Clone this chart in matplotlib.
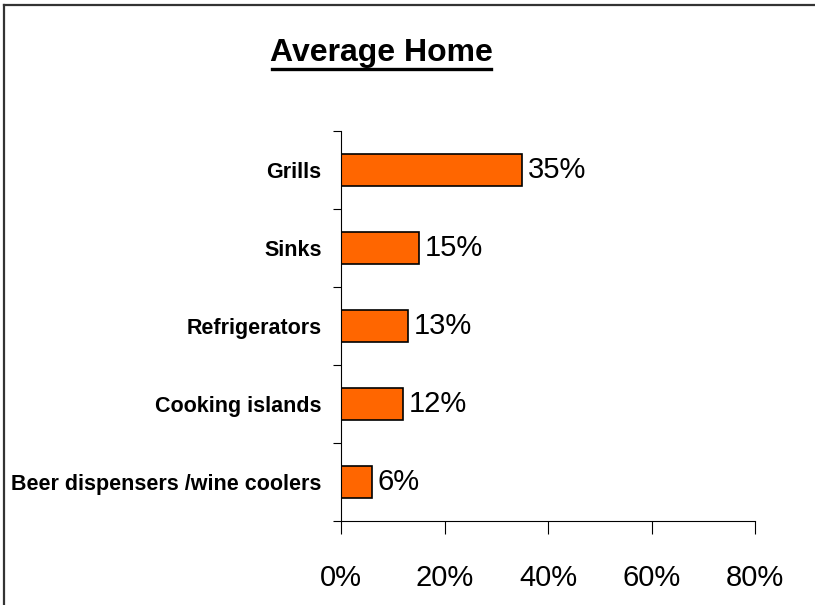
import matplotlib.pyplot as plt
from matplotlib.lines import Line2D
from matplotlib.ticker import FuncFormatter, FixedLocator
import numpy as np

plt.rcParams['font.family'] = ['Liberation Sans', 'DejaVu Sans']

categories = ['Grills', 'Sinks', 'Refrigerators', 'Cooking islands',
              'Beer dispensers /wine coolers']
shares = [35, 15, 13, 12, 6]
x_ticks = [0, 20, 40, 60, 80]

fig = plt.figure(figsize=(8.15, 6.05), dpi=100)
ax = fig.add_axes([0.4184, 0.1388, 0.508, 0.6447])

pos = np.arange(len(categories))
ax.barh(pos, shares, height=0.41, color='#FF6600', edgecolor='black', linewidth=1.2)
ax.set_ylim(len(categories) - 0.5, -0.5)
ax.set_xlim(0, 80)

for p, v in zip(pos, shares):
    ax.text(v + 1.1, p, f'{v}%', va='center', ha='left', fontsize=21)

# category labels at bar centres, tick marks on the category boundaries
ax.set_yticks(pos)
ax.set_yticklabels(categories, fontsize=15.5, fontweight='bold')
ax.yaxis.set_minor_locator(FixedLocator(np.arange(-0.5, len(categories), 1)))
ax.tick_params(axis='y', which='major', length=0, pad=14)
ax.tick_params(axis='y', which='minor', length=6, width=0.8, direction='out')

ax.set_xticks(x_ticks)
ax.xaxis.set_major_formatter(FuncFormatter(lambda v, _: f'{v:.0f}%'))
ax.tick_params(axis='x', length=9, width=0.8, direction='out', labelsize=21, pad=22)

for side in ['top', 'right']:
    ax.spines[side].set_visible(False)
for side in ['left', 'bottom']:
    ax.spines[side].set_linewidth(0.8)

# underlined title
fig.text(381 / 815, 1 - 61 / 605, 'Average Home', ha='center', va='baseline',
         fontsize=23, fontweight='bold')
fig.add_artist(Line2D([272 / 815, 491 / 815], [1 - 69 / 605, 1 - 69 / 605],
                      color='black', linewidth=2.4))

# outer frame (top and left edges)
fig.add_artist(Line2D([4 / 815, 1.0], [1 - 5 / 605, 1 - 5 / 605], color='#333333', linewidth=1.6))
fig.add_artist(Line2D([4 / 815, 4 / 815], [0, 1 - 5 / 605], color='#333333', linewidth=1.6))

fig.savefig('out.png', dpi=100)
